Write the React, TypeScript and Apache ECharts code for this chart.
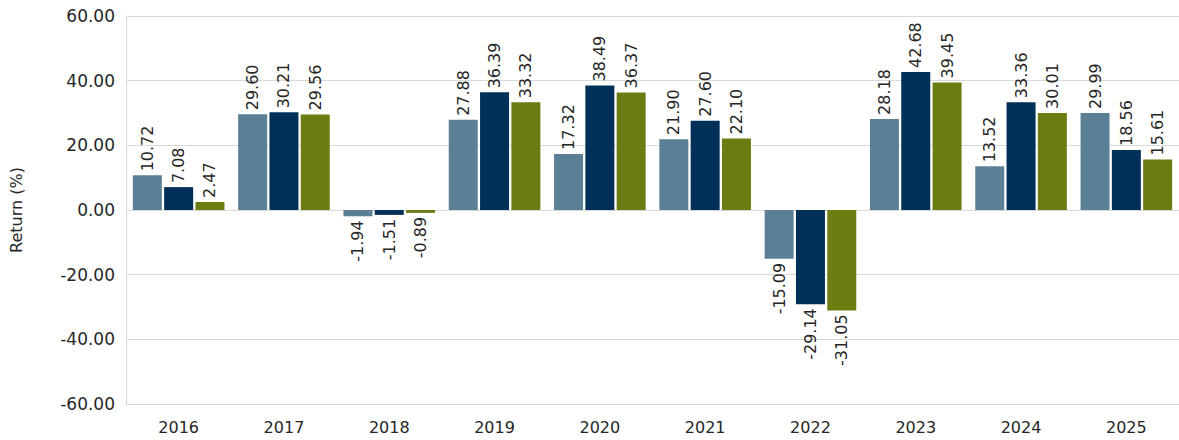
import React, { useEffect, useRef } from "react";
import * as echarts from "echarts";

const years = ["2016", "2017", "2018", "2019", "2020", "2021", "2022", "2023", "2024", "2025"];
const seriesA = [10.72, 29.6, -1.94, 27.88, 17.32, 21.9, -15.09, 28.18, 13.52, 29.99];
const seriesB = [7.08, 30.21, -1.51, 36.39, 38.49, 27.6, -29.14, 42.68, 33.36, 18.56];
const seriesC = [2.47, 29.56, -0.89, 33.32, 36.37, 22.1, -31.05, 39.45, 30.01, 15.61];
const colors = ["#5B7F95", "#003057", "#6B7D12"];
const FONT = "DejaVu Sans";

function mkData(vals: number[]) {
  return vals.map((v) => ({
    value: v,
    label: v >= 0
      ? { position: "top", align: "left", verticalAlign: "middle", rotate: 90, distance: 4 }
      : { position: "bottom", align: "right", verticalAlign: "middle", rotate: 90, distance: 4 },
  }));
}

export default function App() {
  const ref = useRef<HTMLDivElement>(null);
  useEffect(() => {
    const chart = echarts.init(ref.current!, null, { renderer: "svg" });
    const mk = (name: string, vals: number[], i: number) => ({
      name,
      type: "bar",
      data: mkData(vals),
      itemStyle: { color: colors[i] },
      barGap: "8%",
      barCategoryGap: "13%",
      label: {
        show: true,
        formatter: (p: any) => Number(p.value).toFixed(2),
        fontFamily: FONT,
        fontSize: 16,
        color: "#262626",
      },
    });
    chart.setOption({
      animation: false,
      grid: { left: 124, right: 0, top: 16, bottom: 36, containLabel: false },
      xAxis: {
        type: "category",
        data: years,
        axisLine: { show: true, onZero: false, lineStyle: { color: "#d9d9d9" } },
        axisTick: { show: false },
        axisLabel: { fontFamily: FONT, fontSize: 16, color: "#262626", margin: 15 },
      },
      yAxis: {
        type: "value",
        min: -60,
        max: 60,
        interval: 20,
        name: "Return (%)",
        nameLocation: "middle",
        nameGap: 102,
        nameTextStyle: { fontFamily: FONT, fontSize: 16, color: "#262626" },
        axisLine: { show: true, lineStyle: { color: "#d9d9d9" } },
        axisTick: { show: false },
        splitLine: { lineStyle: { color: "#d9d9d9" } },
        axisLabel: {
          fontFamily: FONT,
          fontSize: 17,
          color: "#262626",
          margin: 11,
          formatter: (v: number) => v.toFixed(2),
        },
      },
      series: [mk("A", seriesA, 0), mk("B", seriesB, 1), mk("C", seriesC, 2)],
    });
    return () => chart.dispose();
  }, []);
  return (
    <div
      ref={ref}
      style={{ position: "absolute", left: 0, top: 0, width: 1179, height: 440 }}
    />
  );
}
